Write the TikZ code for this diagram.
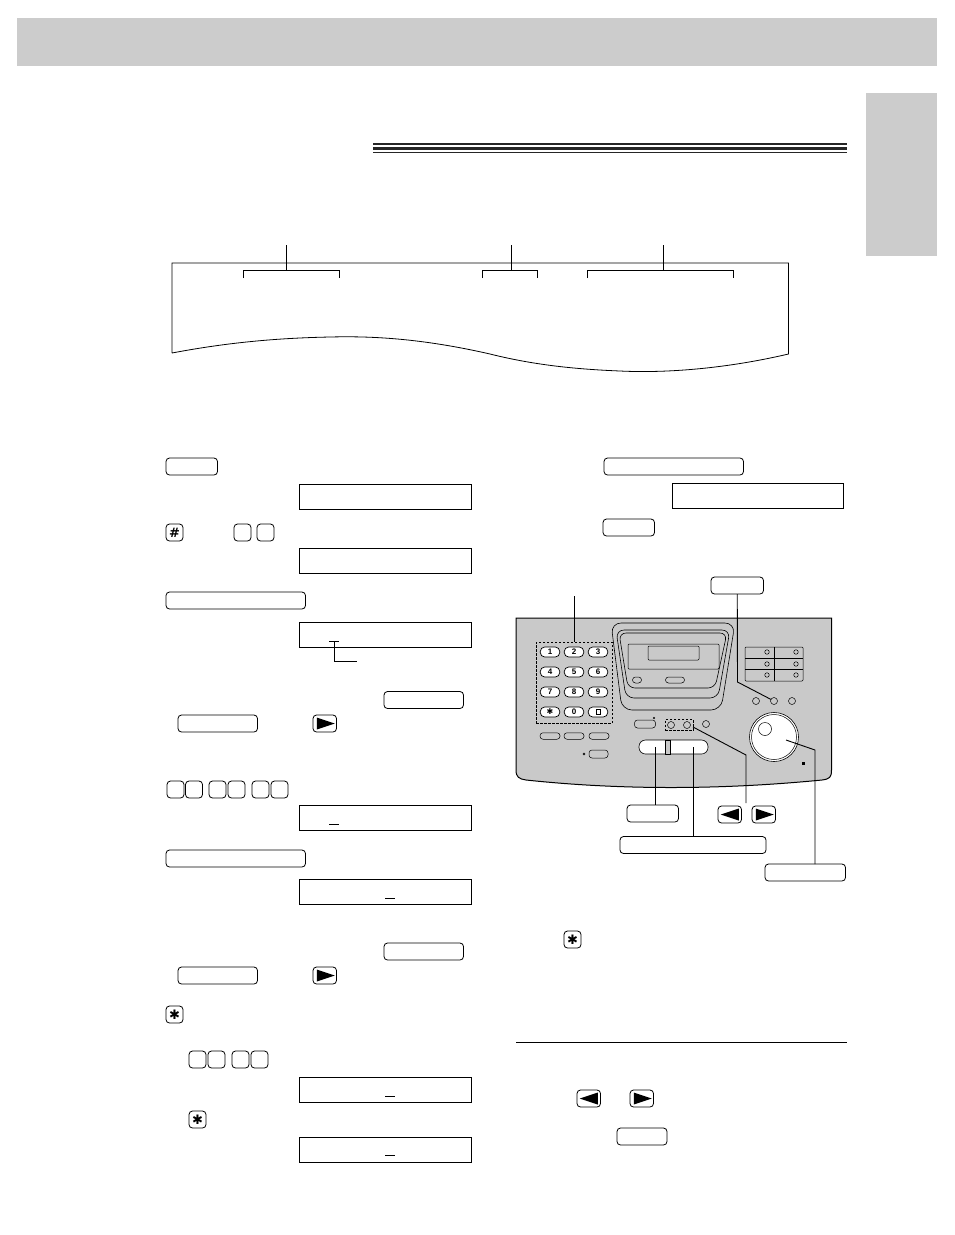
\documentclass[tikz,border=0pt]{standalone}
\usepackage{fontspec}
\setsansfont{Liberation Sans}
\newfontfamily\symfont{DejaVu Sans}
\definecolor{band}{HTML}{CCCCCC}
\definecolor{panel}{HTML}{C9C9C9}
\begin{document}
\begin{tikzpicture}[x=1pt, y=-1pt, line width=0.9pt]
        \tikzstyle{every node}=[inner sep=0pt, outer sep=0pt]
        \tikzstyle{key}=[draw, rounded corners=3.5pt, fill=white, anchor=north west, line width=0.8pt, minimum height=17pt]
        \tikzstyle{keyone}=[key, minimum width=17pt]
        \tikzstyle{keyarrow}=[key, minimum width=23.5pt]
        \tikzstyle{keyshort}=[key, minimum width=51.5pt]
        \tikzstyle{keymid}=[key, minimum width=79.5pt]
        \tikzstyle{keylong}=[key, minimum width=139.5pt]
        \tikzstyle{lcd}=[draw, anchor=north west, line width=1pt, minimum width=172pt, minimum height=25.5pt]
        \tikzstyle{keysym}=[font=\symfont\bfseries\fontsize{13}{13}\selectfont]
        \tikzstyle{pad}=[draw, rounded corners=4.5pt, fill=white, minimum width=19.5pt, minimum height=10pt, line width=0.7pt, font=\sffamily\bfseries\fontsize{8}{8}\selectfont]
        \tikzstyle{flat}=[draw, rounded corners=3pt, fill=panel, minimum width=20pt, minimum height=6.5pt, line width=0.5pt]
        \tikzstyle{lamp}=[draw, circle, fill=panel, minimum size=7pt, line width=0.5pt]
        \tikzstyle{led}=[draw, circle, fill=panel, minimum size=4.5pt, line width=0.5pt]
        \tikzstyle{lead}=[line width=0.9pt]
        \tikzstyle{dots}=[draw, dash pattern=on 2.5pt off 1.5pt, line width=0.9pt]
        \useasboundingbox (0,0) rectangle (954,1235);
        \fill [white] (0,0) rectangle (954,1235);
        % page band and side tab
        \fill [band] (17,18) rectangle (937,66);
        \fill [band] (866,93) rectangle (937,256);
        \fill [black!85] (373,143) rectangle (847,145.3);
        \fill [black!85] (373,147) rectangle (847,150.3);
        \fill [black!85] (373,152) rectangle (847,153);
        % sheet of paper with the brackets
        \draw [line width=0.8pt] (172,353) -- (172,263) -- (788.5,263) -- (788.5,354) .. controls (720,370) and (660,373) .. (620,371) .. controls (570,369) and (530,364) .. (490,354) .. controls (420,338) and (370,336) .. (330,337) .. controls (280,338) and (230,342) .. (172,353);
        \coordinate (stema) at (286,245);
        \coordinate (stemb) at (511,245);
        \coordinate (stemc) at (663,245);
        \draw [lead] (243,278) -- (243,270) -- (339.5,270) -- (339.5,278);
        \draw [lead] (482,278) -- (482,270) -- (537.5,270) -- (537.5,278);
        \draw [lead] (587,278) -- (587,270) -- (733.5,270) -- (733.5,278);
        \draw [lead] (stema) -- (286,270);
        \draw [lead] (stemb) -- (511,270);
        \draw [lead] (stemc) -- (663,270);
        % left column
        \node [keyshort] (kset) at (166,458) {};
        \node [lcd] (lcda) at (299.5,484) {};
        \node [keyone, keysym] (khash) at (166,524) {\#};
        \node [keyone] (kda) at (234,524) {};
        \node [keyone] (kdb) at (257,524) {};
        \node [lcd] (lcdb) at (299,548) {};
        \node [keylong] (kdira) at (166,592) {};
        \node [lcd] (lcdc) at (299,622) {};
        \coordinate (curc) at (334,641);
        \coordinate (curd) at (357,661);
        \draw [lead] (329,641) -- (339,641);
        \draw [lead] (curc) -- (334,661) -- (curd);
        \node [keymid] (kflasha) at (384,691.5) {};
        \node [keymid] (kflashb) at (178,715) {};
        \node [keyarrow] (kra) at (313,715) {};
        \fill [shift={(kra.center)}] (-8,-6) -- (10,0) -- (-8,6) -- cycle;
        \node [keyone] (kna) at (167,781) {};
        \node [keyone] (knb) at (185.5,781) {};
        \node [keyone] (knc) at (209,781) {};
        \node [keyone] (knd) at (228,781) {};
        \node [keyone] (kne) at (252,781) {};
        \node [keyone] (knf) at (271,781) {};
        \node [lcd] (lcdd) at (299,805) {};
        \draw [lead] (329,824) -- (339,824);
        \node [keylong] (kdirb) at (166,850) {};
        \node [lcd] (lcde) at (299,879) {};
        \draw [lead] (385,898) -- (395,898);
        \node [keymid] (kflashc) at (384,943) {};
        \node [keymid] (kflashd) at (178,967) {};
        \node [keyarrow] (krb) at (313,967) {};
        \fill [shift={(krb.center)}] (-8,-6) -- (10,0) -- (-8,6) -- cycle;
        \node [keyone, keysym] (kstara) at (166,1006) {✱};
        \node [keyone] (kpa) at (189,1051) {};
        \node [keyone] (kpb) at (208,1051) {};
        \node [keyone] (kpc) at (232,1051) {};
        \node [keyone] (kpd) at (251,1051) {};
        \node [lcd] (lcdf) at (299,1077) {};
        \draw [lead] (385,1096) -- (395,1096);
        \node [keyone, keysym] (kstarb) at (189,1111) {✱};
        \node [lcd] (lcdg) at (299,1137) {};
        \draw [lead] (385,1155) -- (395,1155);
        % right column
        \node [keylong] (kdirc) at (604,458) {};
        \node [lcd, minimum width=171pt] (lcdh) at (672.5,483) {};
        \node [keyshort] (kstop) at (603,519) {};
        \node [keyone, keysym] (kstarc) at (564,931) {✱};
        \draw [lead] (516,1042) -- (847,1042);
        \node [keyarrow] (klc) at (577,1090) {};
        \fill [shift={(klc.center)}] (9,-6) -- (-9,0) -- (9,6) -- cycle;
        \node [keyarrow] (krc) at (630,1090) {};
        \fill [shift={(krc.center)}] (-8,-6) -- (10,0) -- (-8,6) -- cycle;
        \node [keyshort, minimum width=50pt] (kstopb) at (617,1128) {};
        % the machine
        \draw [fill=panel, line width=1pt] (516,618) -- (831.5,618) -- (831.5,770) .. controls (831.5,777) and (830,779) .. (822,780) .. controls (720,790) and (620,790) .. (526,780) .. controls (519,779) and (516,777) .. (516,770) -- cycle;
        \draw [fill=panel, line width=0.6pt, rounded corners=10pt] (611,623) -- (735,623) -- (721,710) -- (622,710) -- cycle;
        \draw [line width=0.6pt, rounded corners=8pt] (616,630) -- (730,630) -- (718,698) -- (626,698) -- cycle;
        \draw [line width=0.6pt, rounded corners=7pt] (619,633) -- (727,633) -- (715,688) -- (628,688) -- cycle;
        \draw [line width=0.5pt, rounded corners=1pt] (628,644) rectangle (719,669);
        \draw [line width=0.5pt, rounded corners=1pt] (648,646) rectangle (699,660);
        \node [flat, minimum width=9pt, minimum height=6pt, fill=panel] (vola) at (637,680) {};
        \node [flat, minimum width=19pt, minimum height=6pt, fill=panel] (volb) at (675,680) {};
        % dial pad
        \node [pad] (pa) at (550,652) {1};
        \node [pad] (pb) at (574,652) {2};
        \node [pad] (pc) at (598,652) {3};
        \node [pad] (pd) at (550,672) {4};
        \node [pad] (pe) at (574,672) {5};
        \node [pad] (pf) at (598,672) {6};
        \node [pad] (pg) at (550,692) {7};
        \node [pad] (ph) at (574,692) {8};
        \node [pad] (pi) at (598,692) {9};
        \node [pad, font=\symfont\bfseries\fontsize{8}{8}\selectfont] (pj) at (550,712) {✱};
        \node [pad] (pk) at (574,712) {0};
        \node [pad] (pl) at (598,712) {};
        \draw [line width=0.9pt] (596,709.5) rectangle (600,714.5);
        \node [dots, minimum width=76pt, minimum height=81pt] (dialbox) at (574,682.5) {};
        \coordinate (dialtop) at (574,596);
        \draw [lead] (dialtop) -- (dialbox.north);
        \node [flat] (fa) at (550,736) {};
        \node [flat] (fb) at (574,736) {};
        \node [flat] (fc) at (599,736) {};
        \node [flat, minimum width=19pt, minimum height=8pt] (fd) at (598.5,754) {};
        \node [draw, circle, minimum size=2pt, line width=0.4pt] (fdot) at (584,754) {};
        % one touch keys
        \draw [line width=0.5pt, rounded corners=1pt] (745,647) rectangle (803,681);
        \draw [line width=0.5pt] (774,647) -- (774,681);
        \draw [line width=0.5pt] (745,658) -- (803,658);
        \draw [line width=0.5pt] (745,669) -- (803,669);
        \node [led] (la) at (767,652) {};
        \node [led] (lb) at (796,652) {};
        \node [led] (lc) at (767,664) {};
        \node [led] (ld) at (796,664) {};
        \node [led] (le) at (767,675) {};
        \node [led] (lf) at (796,675) {};
        \node [lamp] (ma) at (756,701) {};
        \node [lamp] (mb) at (774,701) {};
        \node [lamp] (mc) at (792,701) {};
        % row under the display
        \node [flat, minimum width=21pt, minimum height=8pt] (kmon) at (645,724) {};
        \node [draw, circle, minimum size=1.5pt, line width=0.4pt] (kdot) at (654,718) {};
        \node [lamp] (sa) at (671,725) {};
        \node [lamp] (sb) at (687,725) {};
        \node [lamp] (sc) at (706,724) {};
        \node [dots, minimum width=28pt, minimum height=11pt] (sbox) at (679,725) {};
        \node [draw, rounded corners=6.5pt, fill=white, minimum width=69pt, minimum height=14pt, line width=0.6pt] (slide) at (673.5,747) {};
        \node [draw, fill=panel, minimum width=5.5pt, minimum height=14pt, line width=0.6pt] (slider) at (668,747) {};
        % dial
        \node [draw, circle, fill=white, minimum size=49pt, line width=0.6pt] (dial) at (774,737) {};
        \node [draw, circle, minimum size=45pt, line width=0.5pt] (dialin) at (774,737) {};
        \node [draw, circle, fill=white, minimum size=13pt, line width=0.5pt] (dialcup) at (765,729) {};
        \fill (801.5,761.5) rectangle (804.5,764.5);
        % keys around the machine with their leads
        \node [keyshort, minimum width=52.5pt] (kbig) at (711,577) {};
        \node [keyshort] (kres) at (627,805) {};
        \node [keylong, minimum width=146pt] (kcopy) at (620,836.5) {};
        \node [keyarrow] (kld) at (718,806) {};
        \fill [shift={(kld.center)}] (9,-6) -- (-9,0) -- (9,6) -- cycle;
        \node [keyarrow] (krd) at (752,806) {};
        \fill [shift={(krd.center)}] (-8,-6) -- (10,0) -- (-8,6) -- cycle;
        \node [keymid, minimum width=80.5pt] (kvol) at (765,864) {};
        \coordinate (resup) at (655,747);
        \coordinate (copyup) at (693,747);
        \coordinate (navup) at (693,727);
        \coordinate (navdown) at (746,803);
        \coordinate (volup) at (786,740);
        \draw [lead] (kbig.south) -- (737.5,682) -- (mb);
        \draw [lead] (resup) -- (kres.north -| resup);
        \draw [lead] (copyup) -- (kcopy.north -| copyup);
        \draw [lead] (navup) -- (746,755) -- (navdown);
        \draw [lead] (volup) -- (815,750) -- (kvol.north -| 815,750);
\end{tikzpicture}
\end{document}
